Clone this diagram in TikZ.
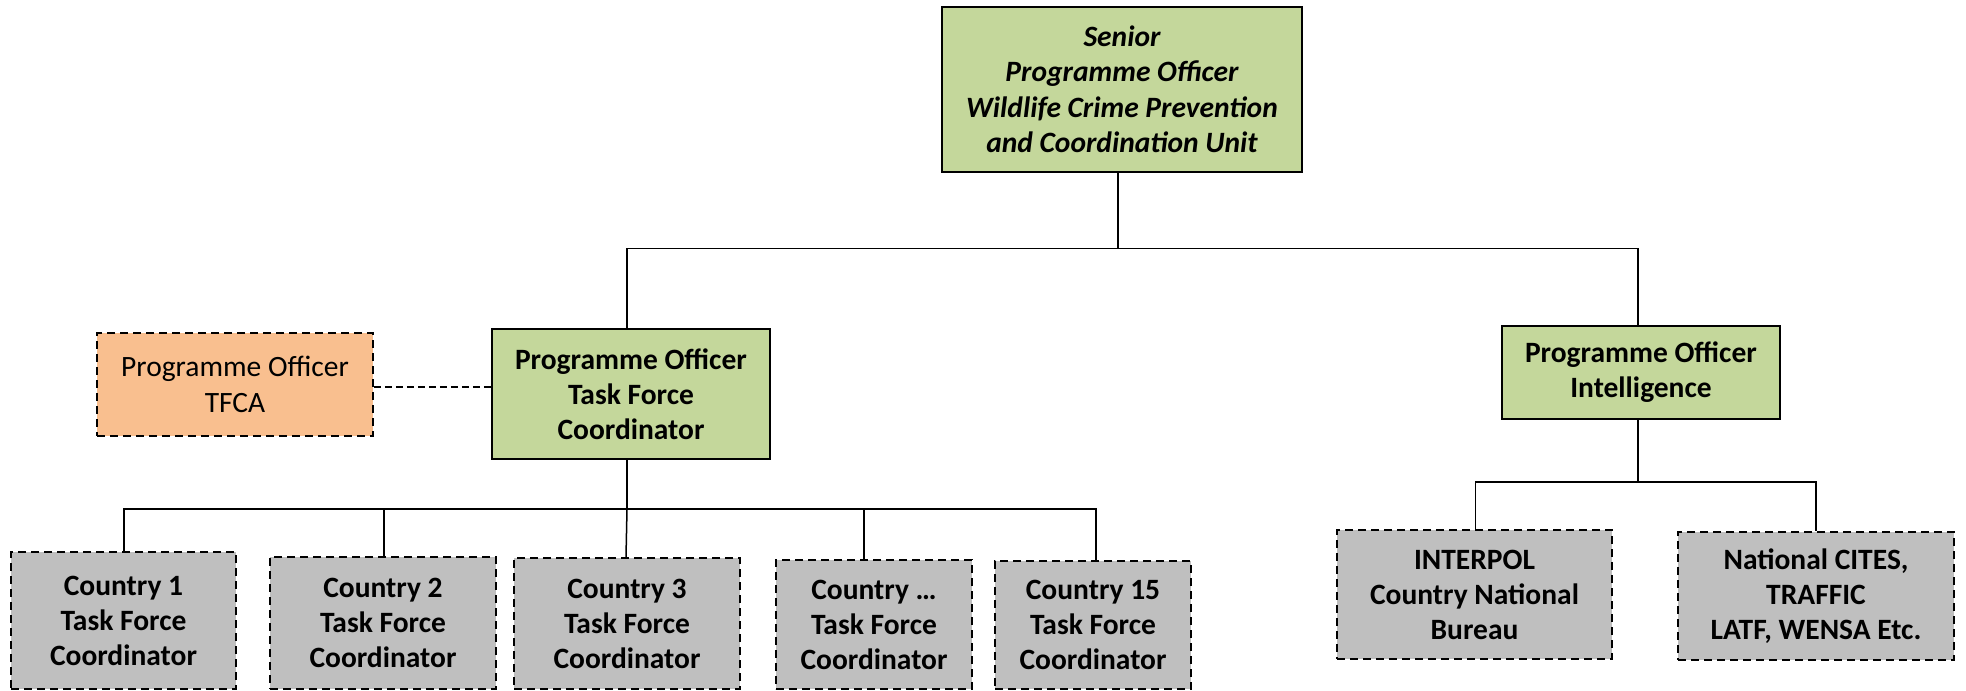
\documentclass[tikz,border=0pt]{standalone}
\usepackage{fontspec}
\setmainfont{Carlito}
\definecolor{boxgreen}{HTML}{C4D79B}
\definecolor{boxorange}{HTML}{F9BF8F}
\definecolor{boxgray}{HTML}{BFBFBF}
\tikzset{
  orgbox/.style={draw=black, line width=1.6pt, align=center, inner sep=0pt,
    font=\fontsize{29.5}{35}\selectfont\bfseries},
  greenbox/.style={orgbox, fill=boxgreen},
  graybox/.style={orgbox, fill=boxgray, dash pattern=on 8pt off 5pt},
  orangebox/.style={orgbox, fill=boxorange, dash pattern=on 8pt off 5pt,
    font=\fontsize{29.5}{36}\selectfont},
  link/.style={draw=black, line width=1.5pt},
  dlink/.style={draw=black, line width=1.6pt, dash pattern=on 7pt off 4pt}
}
\begin{document}
\begin{tikzpicture}[x=1pt, y=-1pt]
\useasboundingbox (0,0) rectangle (1966,691);
% top
\node[greenbox, minimum width=360pt, minimum height=165pt,
  font=\fontsize{29.5}{35.5}\selectfont\bfseries\itshape] (top) at (1122,89.5)
  {Senior\\Programme Officer\\Wildlife Crime Prevention\\and Coordination Unit};
% second level
\node[orangebox, minimum width=276pt, minimum height=103pt] (tfca) at (235,384.5)
  {Programme Officer\\TFCA};
\node[greenbox, minimum width=278pt, minimum height=130pt] (tf) at (631,394)
  {Programme Officer\\Task Force\\Coordinator};
\node[greenbox, minimum width=278pt, minimum height=93pt] (intel) at (1641,372.5)
  {Programme Officer\\Intelligence};
% third level
\node[graybox, minimum width=275pt, minimum height=129pt] (interpol) at (1474.5,594.5)
  {INTERPOL\\Country National\\Bureau};
\node[graybox, minimum width=276pt, minimum height=128pt] (cites) at (1816,596)
  {National CITES,\\TRAFFIC\\LATF, WENSA Etc.};
\node[graybox, minimum width=225pt, minimum height=137pt] (c1) at (123.5,620.5)
  {Country 1\\Task Force\\Coordinator};
\node[graybox, minimum width=226pt, minimum height=132pt] (c2) at (383,623)
  {Country 2\\Task Force\\Coordinator};
\node[graybox, minimum width=226pt, minimum height=131pt] (c3) at (627,623.5)
  {Country 3\\Task Force\\Coordinator};
\node[graybox, minimum width=196pt, minimum height=129pt] (cd) at (874,624.5)
  {Country \dots\\Task Force\\Coordinator};
\node[graybox, minimum width=196pt, minimum height=128pt] (c15) at (1093,625)
  {Country 15\\Task Force\\Coordinator};
% junction coordinates
\coordinate (topbar) at (1118,248.5);
\coordinate (tfbar) at (627,509);
\coordinate (intelbar) at (1638,482);
% connectors from top
\draw[link] ([xshift=-4pt]top.south) -- (topbar);
\draw[link] (topbar) -| ([xshift=-4pt]tf.north);
\draw[link] (topbar) -| ([xshift=-3pt]intel.north);
% dashed link
\draw[dlink] ([yshift=-2.5pt]tfca.east) -- ([yshift=-2.5pt]tfca.east -| tf.west);
% task force connectors
\draw[link] ([xshift=-4pt]tf.south) -- (tfbar);
\draw[link] (tfbar) -| ([xshift=0.5pt]c1.north);
\draw[link] (tfbar) -| ([xshift=1pt]c2.north);
\draw[link] (tfbar) -- ([xshift=-1pt]c3.north);
\draw[link] (tfbar) -| ([xshift=-10pt]cd.north);
\draw[link] (tfbar) -| ([xshift=3pt]c15.north);
% intelligence connectors
\draw[link] ([xshift=-3pt]intel.south) -- (intelbar);
\draw[link] (intelbar) -| ([xshift=1pt]interpol.north);
\draw[link] (intelbar) -| (cites.north);
\end{tikzpicture}
\end{document}
